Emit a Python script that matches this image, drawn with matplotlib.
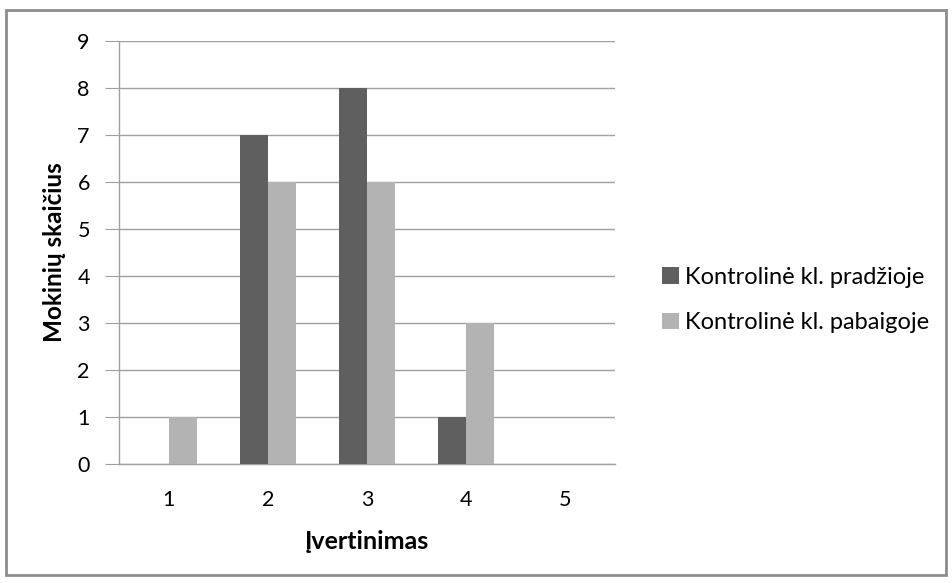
import matplotlib.pyplot as plt
from matplotlib.patches import Rectangle
import numpy as np

plt.rcParams['font.family'] = ['Lato', 'DejaVu Sans']

# grades and pupil counts
grades = ["1", "2", "3", "4", "5"]
start_counts = [0, 7, 8, 1, 0]
end_counts = [1, 6, 6, 3, 0]
series_names = ["Kontrolinė kl. pradžioje", "Kontrolinė kl. pabaigoje"]

W, H = 952, 583
fig = plt.figure(figsize=(W / 100, H / 100), dpi=100)

# outer chart border
fig.patches.append(Rectangle((6 / W, 1 - 575 / H), 940 / W, 565 / H,
                             transform=fig.transFigure, fill=False,
                             edgecolor="#8c8c8c", linewidth=2))

ax = fig.add_axes([119 / W, 1 - 464 / H, 496 / W, 423 / H])

x = np.arange(len(grades))
bw = 0.282
ax.bar(x - bw / 2, start_counts, bw, color="#5f5f5f", label=series_names[0], zorder=3)
ax.bar(x + bw / 2, end_counts, bw, color="#b3b3b3", label=series_names[1], zorder=3)

ax.set_xlim(-0.5, 4.5)
ax.set_ylim(0, 9)
ax.set_yticks(range(10))
ax.set_xticks(x)
ax.set_xticklabels(grades)

ax.grid(axis="y", color="#a0a0a0", linewidth=1, zorder=0)
for s in ["top", "right"]:
    ax.spines[s].set_visible(False)
for s in ["left", "bottom"]:
    ax.spines[s].set_color("#a0a0a0")
    ax.spines[s].set_linewidth(1)

ax.tick_params(axis="y", length=10, color="#a0a0a0", labelsize=15.5, pad=11)
ax.tick_params(axis="x", length=0, labelsize=15.5, pad=19)

ax.set_ylabel("Mokinių skaičius", fontsize=17.5, fontweight="bold", labelpad=8)
ax.set_xlabel("Įvertinimas", fontsize=18, fontweight="bold", labelpad=14)

fig.legend(loc="center left", bbox_to_anchor=(641 / W, 1 - 300 / H),
           frameon=False, fontsize=17, handlelength=0.7, handleheight=0.7,
           handletextpad=0.25, labelspacing=1.05)

fig.savefig("out.png", dpi=100)
